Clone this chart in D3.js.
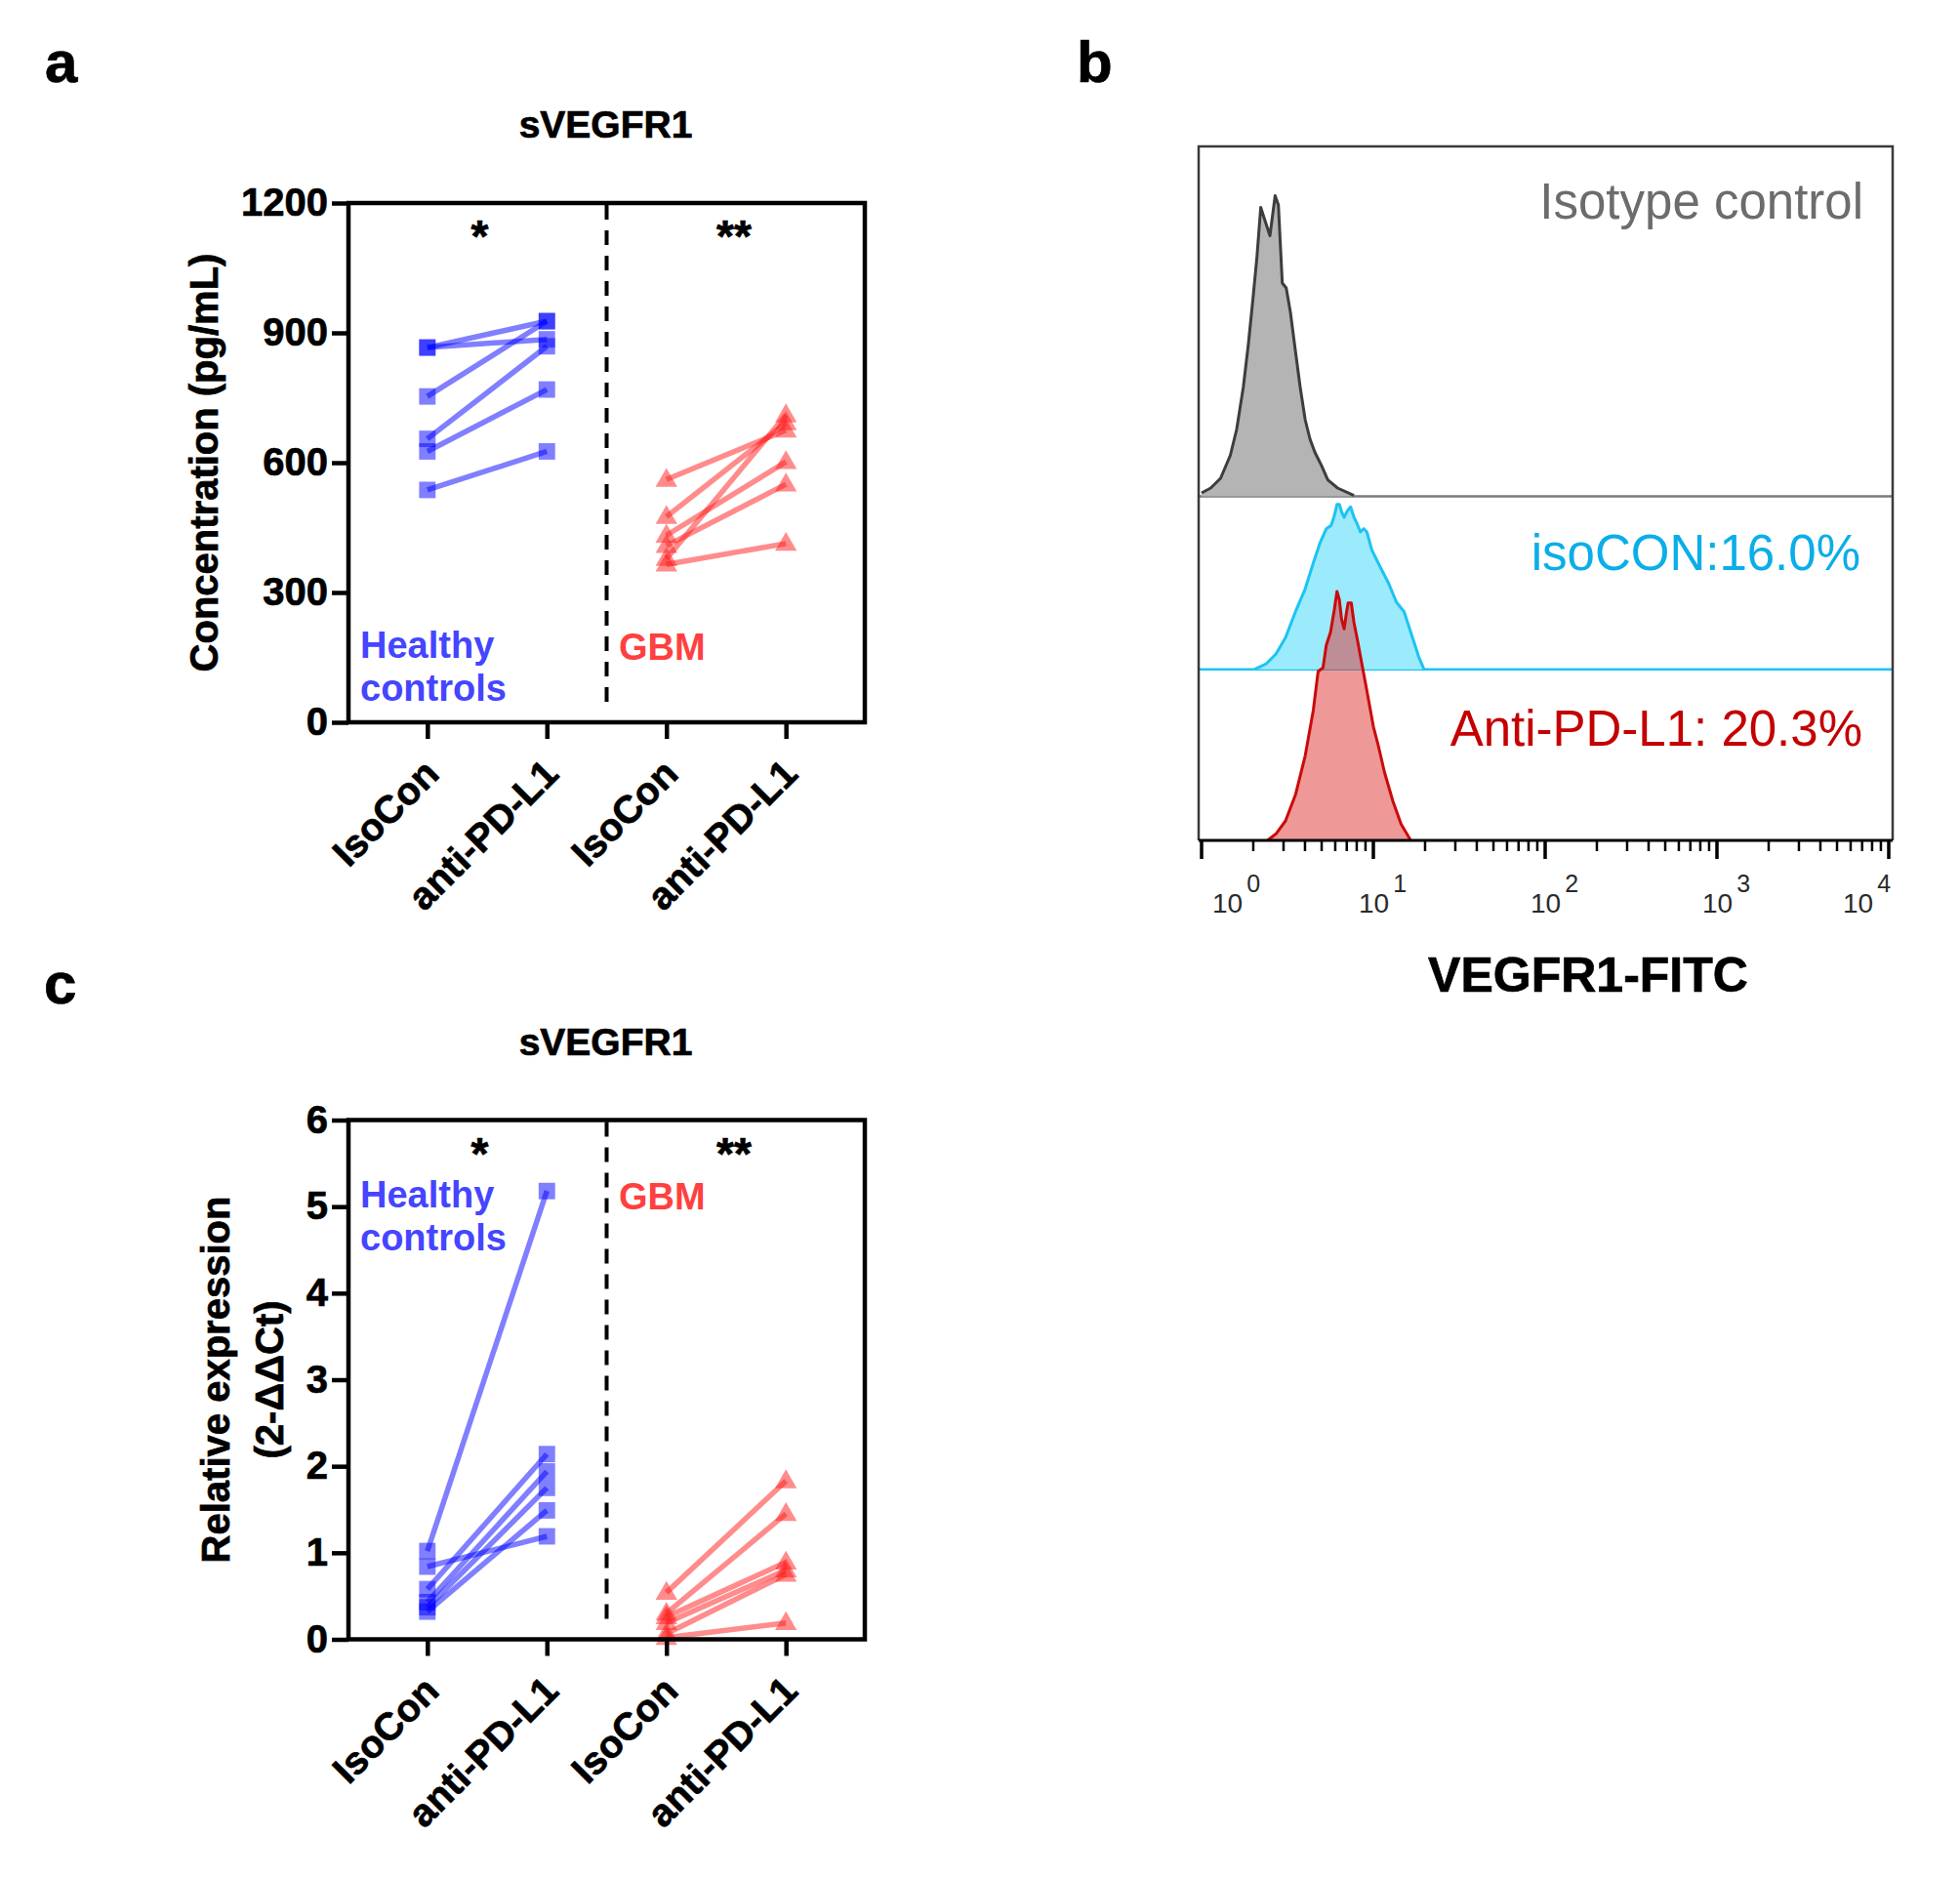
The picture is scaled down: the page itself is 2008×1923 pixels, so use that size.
<!DOCTYPE html>
<html>
<head>
<meta charset="utf-8">
<script src="https://cdn.jsdelivr.net/npm/d3@7"></script>
<style>
  html, body { margin: 0; padding: 0; background: #ffffff; }
  svg text { font-family: "Liberation Sans", Arial, Helvetica, sans-serif; }
  .heavy { stroke: currentColor; stroke-width: 0.7px; paint-order: stroke; }
</style>
</head>
<body>
<svg id="fig" width="2008" height="1923"></svg>
<script>
// ---------------- DATA ----------------
const categories = ["IsoCon", "anti-PD-L1", "IsoCon", "anti-PD-L1"];
const groupLabels = ["Healthy", "controls", "GBM"];
const significance = ["*", "**"];
const panelTitle = "sVEGFR1";

// panel a: sVEGFR1 concentration (pg/mL), paired samples
const concHealthyIso  = [866, 866, 753, 655, 626, 537];
const concHealthyAnti = [927, 885, 927, 869, 769, 626];
const concGbmIso      = [561, 475, 432, 408, 378, 365];
const concGbmAnti     = [675, 692, 602, 550, 710, 413];
const concTicks = [0, 300, 600, 900, 1200];

// panel c: relative expression (2-ΔΔCt), paired samples
const relHealthyIso  = [1.02, 0.84, 0.58, 0.43, 0.37, 0.32];
const relHealthyAnti = [5.18, 1.19, 2.14, 1.94, 1.75, 1.49];
const relGbmIso      = [0.54, 0.30, 0.26, 0.19, 0.065, 0.02];
const relGbmAnti     = [1.83, 1.45, 0.89, 0.80, 0.75, 0.19];
const relTicks = [0, 1, 2, 3, 4, 5, 6];

// panel b: flow cytometry histograms (fluorescence value, count)
const flowTicks = [1, 10, 100, 1000, 10000];
const flowTickExp = ["0", "1", "2", "3", "4"];
const isotypeX = [1.0,1.13,1.29,1.47,1.60,1.75,1.87,1.99,2.10,2.21,2.38,2.50,2.68,2.80,2.95,3.11,3.29,3.52,3.75,4.01,4.28,4.57,4.98,5.43,6.19,7.71];
const isotypeCount = [3.5,8.5,18.5,42,68.5,112,155,202,245,296,278.5,267,308,298.5,218.5,213.5,188.5,148.5,111.8,78.5,58.5,45,31.8,16.8,8.5,0.8];
const isoConX = [2.04,2.38,2.71,3.08,3.52,4.01,4.47,4.88,5.32,5.68,5.93,6.14,6.34,6.55,6.76,7.06,7.37,7.71,8.05,8.40,8.79,9.17,9.79,10.9,12.2,13.6,15.1,16.9,18.4,19.7];
const isoConCount = [0,5.7,15.7,32.4,59,82.4,109,129,144,147.4,157.4,169,169,160.7,155.7,162.4,166.4,155.7,149,140.7,144,140.7,122.4,105.7,89,69,59,32.4,12.4,0];
const antiX = [2.42,2.71,3.08,3.52,4.01,4.47,4.77,5.09,5.32,5.63,5.93,6.14,6.34,6.53,6.76,6.97,7.13,7.44,7.71,8.05,8.59,9.17,10.0,10.7,11.6,13.0,14.5,16.5];
const antiCount = [0,6.7,20,46.7,86.7,133.3,173.3,176.7,200,213.3,236.7,255,246.7,226.7,216.7,233.3,243.3,243.3,223.3,206.7,180,153.3,116.7,96.7,70,40,16.7,0];
const flowLabels = ["Isotype control", "isoCON:16.0%", "Anti-PD-L1: 20.3%"];
const flowXLabel = "VEGFR1-FITC";

// ---------------- DRAWING ----------------
const svg = d3.select("#fig");
svg.append("rect").attr("width", 2008).attr("height", 1923).attr("fill", "#fff");

const BLUE = "#0000ff", RED = "#ff1a1a";
const BLUE_TXT = "#4545ff", RED_TXT = "#ff4040";

function panelLetter(t, x, y) {
  svg.append("text").attr("x", x).attr("y", y).text(t).attr("class", "heavy")
    .attr("font-size", 60).attr("font-weight", "bold").attr("fill", "#000").style("color", "#000");
}
panelLetter("a", 46, 84);
panelLetter("b", 1103, 84);
panelLetter("c", 45, 1028);

function pairedPanel(opt) {
  const g = svg.append("g");
  const L = 357, R = 886, T = opt.top, B = opt.top + 532;
  const x = d3.scaleLinear().domain([-0.66, 3.66]).range([L, R]);
  const y = d3.scaleLinear().domain(opt.domain).range([B, T]);

  // title
  g.append("text").attr("x", 620.5).attr("y", T - 67).attr("text-anchor", "middle")
    .attr("class", "heavy").style("color", "#000")
    .attr("font-size", 39).attr("font-weight", "bold").text(panelTitle);

  // dashed separator
  g.append("line").attr("x1", x(1.5)).attr("x2", x(1.5))
    .attr("y1", T + 2).attr("y2", B - 14)
    .attr("stroke", "#000").attr("stroke-width", 4).attr("stroke-dasharray", "15,11");

  // paired lines + markers
  const series = [
    {iso: opt.hIso, anti: opt.hAnti, i0: 0, color: BLUE, shape: d3.symbolSquare},
    {iso: opt.gIso, anti: opt.gAnti, i0: 2, color: RED, shape: d3.symbolTriangle}
  ];
  series.forEach(s => {
    const pairs = s.iso.map((v, k) => [v, s.anti[k]]);
    g.selectAll(null).data(pairs).enter().append("line")
      .attr("x1", x(s.i0)).attr("x2", x(s.i0 + 1))
      .attr("y1", d => y(d[0])).attr("y2", d => y(d[1]))
      .attr("stroke", s.color).attr("stroke-opacity", 0.5).attr("stroke-width", 5.5);
    const sym = d3.symbol().type(s.shape).size(s.shape === d3.symbolSquare ? 285 : 215);
    const pts = [];
    s.iso.forEach(v => pts.push([s.i0, v]));
    s.anti.forEach(v => pts.push([s.i0 + 1, v]));
    g.selectAll(null).data(pts).enter().append("path")
      .attr("d", sym)
      .attr("transform", d => `translate(${x(d[0])},${y(d[1]) + (s.shape === d3.symbolTriangle ? 1 : 0)})`)
      .attr("fill", s.color).attr("fill-opacity", 0.5);
  });

  // frame
  g.append("rect").attr("x", L).attr("y", T).attr("width", R - L).attr("height", B - T)
    .attr("fill", "none").attr("stroke", "#000").attr("stroke-width", 4.5);

  // y axis
  const ya = g.append("g").attr("transform", `translate(${L},0)`)
    .call(d3.axisLeft(y).tickValues(opt.ticks).tickSize(17).tickPadding(4).tickFormat(d3.format("d")));
  ya.select(".domain").remove();
  ya.selectAll(".tick line").attr("stroke", "#000").attr("stroke-width", 4.5);
  ya.selectAll(".tick text").attr("font-size", 40).attr("font-weight", "bold")
    .attr("fill", "#000").attr("class", "heavy").style("color", "#000")
    .attr("font-family", "Liberation Sans, Arial, sans-serif");

  // x axis ticks
  const xa = g.append("g").attr("transform", `translate(0,${B})`)
    .call(d3.axisBottom(x).tickValues([0, 1, 2, 3]).tickSize(17).tickFormat(""));
  xa.select(".domain").remove();
  xa.selectAll(".tick line").attr("stroke", "#000").attr("stroke-width", 4.5);

  // x labels rotated
  g.selectAll(null).data(categories).enter().append("text")
    .attr("transform", (d, i) => `translate(${x(i) + 14},${B + 55}) rotate(-45)`)
    .attr("class", "heavy").style("color", "#000")
    .attr("text-anchor", "end").attr("font-size", 39.5).attr("font-weight", "bold").text(d => d);

  // significance
  g.append("text").attr("x", 491.5).attr("y", T + 50).attr("text-anchor", "middle")
    .attr("class", "heavy").style("color", "#000")
    .attr("font-size", 46).attr("font-weight", "bold").text(significance[0]);
  g.append("text").attr("x", 752).attr("y", T + 50).attr("text-anchor", "middle")
    .attr("class", "heavy").style("color", "#000")
    .attr("font-size", 46).attr("font-weight", "bold").text(significance[1]);

  // group labels
  g.append("text").attr("x", 369).attr("y", opt.hcY).attr("font-size", 38).attr("font-weight", "bold")
    .attr("fill", BLUE_TXT).text(groupLabels[0]);
  g.append("text").attr("x", 369).attr("y", opt.hcY + 44).attr("font-size", 38).attr("font-weight", "bold")
    .attr("fill", BLUE_TXT).text(groupLabels[1]);
  g.append("text").attr("x", 634).attr("y", opt.hcY + 2).attr("font-size", 38).attr("font-weight", "bold")
    .attr("fill", RED_TXT).text(groupLabels[2]);

  // y axis title
  const cy = (T + B) / 2;
  opt.ylab.forEach((t, k) => {
    g.append("text").attr("transform", `translate(${opt.ylabX[k]},${cy}) rotate(-90)`)
      .attr("class", "heavy").style("color", "#000")
      .attr("text-anchor", "middle").attr("font-size", 40).attr("font-weight", "bold").text(t);
  });
}

pairedPanel({
  top: 208, domain: [0, 1200], ticks: concTicks,
  hIso: concHealthyIso, hAnti: concHealthyAnti, gIso: concGbmIso, gAnti: concGbmAnti,
  hcY: 674, ylab: ["Concentration (pg/mL)"], ylabX: [223]
});
pairedPanel({
  top: 1147.5, domain: [0, 6], ticks: relTicks,
  hIso: relHealthyIso, hAnti: relHealthyAnti, gIso: relGbmIso, gAnti: relGbmAnti,
  hcY: 1237, ylab: ["Relative expression", "(2-\u0394\u0394Ct)"], ylabX: [235, 290]
});

// ---------------- panel b ----------------
(function flow() {
  const g = svg.append("g");
  const L = 1228, R = 1939, T = 150, B = 861;
  const x = d3.scaleLog().domain([1, 10000]).range([1231, 1935]);
  const bands = [
    {xs: isotypeX, cs: isotypeCount, base: 508.5, stroke: "#3d3d3d", fill: "#b4b4b4", fo: 1, line: "#7a7a7a"},
    {xs: isoConX, cs: isoConCount, base: 685.7, stroke: "#1cc4f2", fill: "#9cebfc", fo: 1, line: "#1cc4f2"},
    {xs: antiX, cs: antiCount, base: B, stroke: "#cc0a0a", fill: "#e03232", fo: 0.5, line: null}
  ];
  bands.forEach(b => {
    const y = d3.scaleLinear().domain([0, 360]).range([b.base, b.base - 360]);
    const pts = b.xs.map((v, k) => [v, b.cs[k]]);
    if (b.line) {
      g.append("line").attr("x1", L).attr("x2", R).attr("y1", b.base).attr("y2", b.base)
        .attr("stroke", b.line).attr("stroke-width", 2.5);
    }
    const area = d3.area().x(d => x(d[0])).y0(b.base).y1(d => y(d[1]));
    const line = d3.line().x(d => x(d[0])).y(d => y(d[1]));
    g.append("path").attr("d", area(pts)).attr("fill", b.fill).attr("fill-opacity", b.fo);
    g.append("path").attr("d", line(pts)).attr("fill", "none").attr("stroke", b.stroke)
      .attr("stroke-width", 3).attr("stroke-linejoin", "round");
  });

  // frame (left, top, right)
  g.append("path").attr("d", `M${L},${B}V${T}H${R}V${B}`).attr("fill", "none")
    .attr("stroke", "#3a3a3a").attr("stroke-width", 2.5);

  // bottom log axis
  const minor = [];
  for (let e = 0; e < 4; e++) for (let m = 2; m <= 9; m++) minor.push(m * Math.pow(10, e));
  const ax = g.append("g").attr("transform", `translate(0,${B})`);
  ax.append("line").attr("x1", L).attr("x2", R).attr("y1", 0).attr("y2", 0)
    .attr("stroke", "#000").attr("stroke-width", 3);
  ax.selectAll(null).data(minor).enter().append("line")
    .attr("x1", d => x(d)).attr("x2", d => x(d)).attr("y1", 0).attr("y2", 11)
    .attr("stroke", "#000").attr("stroke-width", 2.5);
  ax.selectAll(null).data(flowTicks).enter().append("line")
    .attr("x1", d => x(d)).attr("x2", d => x(d)).attr("y1", 0).attr("y2", 19)
    .attr("stroke", "#000").attr("stroke-width", 3.5);
  const lbl = ax.selectAll(null).data(flowTicks).enter().append("text")
    .attr("x", d => Math.max(1242, Math.min(x(d) - 15, 1888)))
    .attr("y", 74).attr("font-size", 28).attr("fill", "#2a2a2a");
  lbl.append("tspan").text("10");
  lbl.append("tspan").attr("dx", 4).attr("dy", -21).attr("font-size", 25).text((d, i) => flowTickExp[i]);

  g.append("text").attr("x", 1627).attr("y", 1016).attr("text-anchor", "middle")
    .attr("class", "heavy").style("color", "#000")
    .attr("font-size", 50).attr("font-weight", "bold").text(flowXLabel);

  g.append("text").attr("x", 1909).attr("y", 224).attr("text-anchor", "end")
    .attr("font-size", 51).attr("fill", "#6e6b6b").text(flowLabels[0]);
  g.append("text").attr("x", 1906).attr("y", 584).attr("text-anchor", "end")
    .attr("font-size", 51).attr("fill", "#0aaee8").text(flowLabels[1]);
  g.append("text").attr("x", 1908).attr("y", 764).attr("text-anchor", "end")
    .attr("font-size", 51).attr("fill", "#c40000").text(flowLabels[2]);
})();
</script>
</body>
</html>
